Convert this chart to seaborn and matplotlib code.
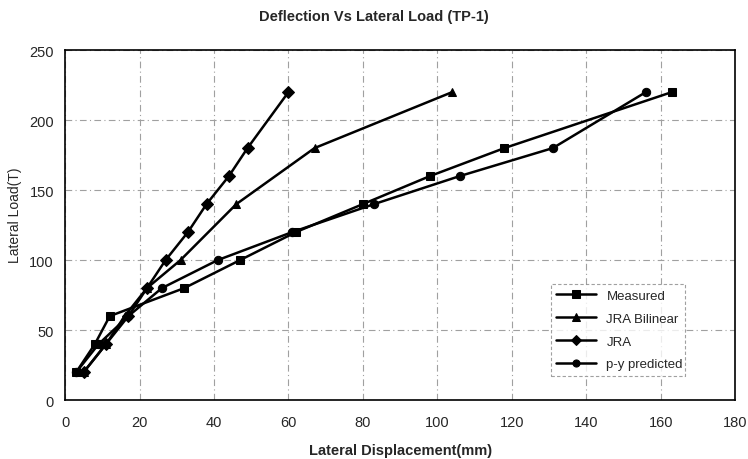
import numpy as np
import pandas as pd
import matplotlib
matplotlib.use("Agg")
import matplotlib.pyplot as plt
import seaborn as sns

series_names = ["Measured", "JRA Bilinear", "JRA", "p-y predicted"]

measured_x = [3, 8, 12, 32, 47, 62, 80, 98, 118, 163]
measured_y = [20, 40, 60, 80, 100, 120, 140, 160, 180, 220]

bilinear_x = [5, 11, 16, 22, 31, 46, 67, 104]
bilinear_y = [20, 40, 60, 80, 100, 140, 180, 220]

jra_x = [5, 11, 17, 22, 27, 33, 38, 44, 49, 60]
jra_y = [20, 40, 60, 80, 100, 120, 140, 160, 180, 220]

py_x = [3, 9, 17, 26, 41, 61, 83, 106, 131, 156]
py_y = [20, 40, 60, 80, 100, 120, 140, 160, 180, 220]

x_ticks = [0, 20, 40, 60, 80, 100, 120, 140, 160, 180]
y_ticks = [0, 50, 100, 150, 200, 250]

frames = []
for name, xs, ys in zip(series_names,
                        [measured_x, bilinear_x, jra_x, py_x],
                        [measured_y, bilinear_y, jra_y, py_y]):
    frames.append(pd.DataFrame({"x": xs, "y": ys, "series": name}))
df = pd.concat(frames, ignore_index=True)

sns.set_theme(style="white")
plt.rcParams["font.family"] = ["Liberation Sans", "DejaVu Sans"]

fig = plt.figure(figsize=(7.48, 4.6), dpi=100)
ax = fig.add_axes([0.087, 0.128, 0.896, 0.761])

markers = {"Measured": "s", "JRA Bilinear": "^", "JRA": "D", "p-y predicted": "o"}
palette = {n: "black" for n in series_names}

sns.lineplot(data=df, x="x", y="y", hue="series", style="series",
             hue_order=series_names, style_order=series_names,
             markers=markers, dashes=False, palette=palette, sort=False,
             estimator=None, linewidth=1.8, markersize=6,
             markeredgecolor="black", ax=ax)

ax.set_xlim(0, 180)
ax.set_ylim(0, 250)
ax.set_xticks(x_ticks)
ax.set_yticks(y_ticks)
ax.tick_params(axis="x", labelsize=10.5, length=0, pad=11)
ax.tick_params(axis="y", labelsize=10.5, length=0, pad=8)
ax.grid(True, color="#a0a0a0", linestyle=(0, (6, 3, 1, 3)), linewidth=0.8)
for s in ax.spines.values():
    s.set_color("black")
    s.set_linewidth(1.2)

ax.set_xlabel("Lateral Displacement(mm)", fontsize=10.5, fontweight="bold", labelpad=10)
ax.set_ylabel("Lateral Load(T)", fontsize=10, fontweight="normal", labelpad=5)
ax.yaxis.set_label_coords(-0.064, 0.53)
fig.text(0.5, 0.962, "Deflection Vs Lateral Load (TP-1)", ha="center", va="center",
         fontsize=10.5, fontweight="bold")

leg = ax.legend(loc="lower left", bbox_to_anchor=(0.725, 0.07, 0.2, 0.3),
                mode="expand", frameon=True, fontsize=9.5, handlelength=3,
                borderaxespad=0, labelspacing=0.8, fancybox=False, markerscale=0.85)
leg.get_frame().set_edgecolor("#888888")
leg.get_frame().set_linestyle((0, (3, 2)))
leg.get_frame().set_linewidth(0.8)

fig.savefig("out.png", dpi=100, facecolor="white")
